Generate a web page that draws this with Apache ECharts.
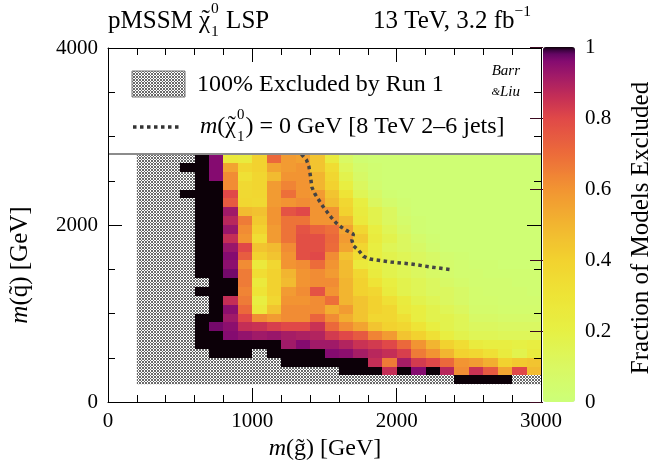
<!DOCTYPE html>
<html>
<head>
<meta charset="utf-8">
<script src="https://cdn.jsdelivr.net/npm/echarts@6/dist/echarts.min.js"></script>
<style>
  html, body {margin: 0; padding: 0; background: #fff;}
  #chart {width: 656px; height: 465px;}
</style>
</head>
<body>
<div id="chart"></div>
<script>
// lower bin edges, GeV
const gluinoMass = [200, 300, 400, 500, 600, 700, 800, 900, 1000, 1100, 1200, 1300, 1400, 1500,
  1600, 1700, 1800, 1900, 2000, 2100, 2200, 2300, 2400, 2500, 2600, 2700, 2800, 2900];
const squarkMass = [2700, 2600, 2500, 2400, 2300, 2200, 2100, 2000, 1900, 1800, 1700, 1600, 1500,
  1400, 1300, 1200, 1100, 1000, 900, 800, 700, 600, 500, 400, 300, 200];
const binWidth = 100;

// fraction of models excluded, one row per squark bin (top to bottom), null = no models left
const N = null;
const fractionExcluded = [
  [N, N, N, N, 1, 0.96, 0.26, 0.24, 0.40, 0.71, 0.58, 0.56, 0.45, 0.24, 0.09, 0.03, 0.02, 0.02, 0.02, 0.02, 0.02, 0.02, 0.02, 0.02, 0.02, 0.02, 0.02, 0.02],
  [N, N, N, 1, 1, 0.96, 0.55, 0.37, 0.40, 0.55, 0.58, 0.60, 0.45, 0.34, 0.13, 0.06, 0.03, 0.02, 0.02, 0.02, 0.02, 0.02, 0.02, 0.02, 0.02, 0.02, 0.02, 0.02],
  [N, N, N, N, 1, 0.96, 0.62, 0.32, 0.38, 0.48, 0.60, 0.60, 0.50, 0.37, 0.17, 0.08, 0.03, 0.02, 0.02, 0.02, 0.02, 0.02, 0.02, 0.02, 0.02, 0.02, 0.02, 0.02],
  [N, N, N, N, 1, 1, 0.62, 0.36, 0.38, 0.58, 0.64, 0.60, 0.50, 0.40, 0.22, 0.11, 0.04, 0.02, 0.02, 0.02, 0.02, 0.02, 0.02, 0.02, 0.02, 0.02, 0.02, 0.02],
  [N, N, N, 1, 1, 1, 0.80, 0.36, 0.37, 0.58, 0.69, 0.60, 0.58, 0.45, 0.30, 0.14, 0.08, 0.03, 0.02, 0.02, 0.02, 0.02, 0.02, 0.02, 0.02, 0.02, 0.02, 0.02],
  [N, N, N, N, 1, 1, 0.75, 0.37, 0.36, 0.58, 0.60, 0.62, 0.60, 0.48, 0.37, 0.22, 0.11, 0.06, 0.03, 0.02, 0.02, 0.02, 0.02, 0.02, 0.02, 0.02, 0.02, 0.02],
  [N, N, N, N, 1, 1, 0.92, 0.48, 0.46, 0.60, 0.77, 0.80, 0.60, 0.60, 0.40, 0.24, 0.17, 0.11, 0.04, 0.02, 0.02, 0.02, 0.02, 0.02, 0.02, 0.02, 0.02, 0.02],
  [N, N, N, N, 1, 1, 0.88, 0.66, 0.43, 0.60, 0.68, 0.68, 0.60, 0.60, 0.48, 0.26, 0.17, 0.11, 0.06, 0.03, 0.02, 0.02, 0.02, 0.02, 0.02, 0.02, 0.02, 0.02],
  [N, N, N, N, 1, 1, 0.93, 0.62, 0.40, 0.58, 0.68, 0.77, 0.72, 0.69, 0.55, 0.37, 0.22, 0.14, 0.08, 0.03, 0.02, 0.02, 0.02, 0.02, 0.02, 0.02, 0.02, 0.02],
  [N, N, N, N, 1, 1, 0.86, 0.60, 0.34, 0.58, 0.68, 0.78, 0.78, 0.71, 0.58, 0.43, 0.24, 0.17, 0.11, 0.06, 0.03, 0.02, 0.02, 0.02, 0.02, 0.02, 0.02, 0.02],
  [N, N, N, N, 1, 1, 0.93, 0.80, 0.45, 0.48, 0.62, 0.78, 0.78, 0.70, 0.55, 0.38, 0.22, 0.14, 0.11, 0.08, 0.04, 0.02, 0.02, 0.02, 0.02, 0.02, 0.02, 0.02],
  [N, N, N, N, 1, 1, 0.96, 0.74, 0.40, 0.45, 0.60, 0.78, 0.80, 0.62, 0.45, 0.34, 0.22, 0.17, 0.14, 0.11, 0.08, 0.04, 0.03, 0.02, 0.02, 0.02, 0.02, 0.02],
  [N, N, N, N, 1, 1, 0.95, 0.62, 0.26, 0.37, 0.60, 0.62, 0.70, 0.60, 0.48, 0.26, 0.22, 0.17, 0.14, 0.11, 0.08, 0.06, 0.04, 0.03, 0.03, 0.02, 0.02, 0.02],
  [N, N, N, N, 1, 1, 0.97, 0.66, 0.34, 0.40, 0.50, 0.60, 0.62, 0.58, 0.48, 0.37, 0.24, 0.17, 0.14, 0.11, 0.08, 0.06, 0.04, 0.04, 0.03, 0.03, 0.03, 0.03],
  [N, N, N, N, N, 1, 1, 0.66, 0.26, 0.40, 0.48, 0.60, 0.62, 0.62, 0.50, 0.40, 0.30, 0.22, 0.17, 0.14, 0.11, 0.08, 0.06, 0.04, 0.04, 0.04, 0.03, 0.03],
  [N, N, N, N, 1, 1, 1, 0.64, 0.30, 0.40, 0.58, 0.62, 0.77, 0.60, 0.50, 0.40, 0.37, 0.24, 0.17, 0.14, 0.11, 0.11, 0.08, 0.05, 0.04, 0.04, 0.04, 0.03],
  [N, N, N, N, N, 1, 0.86, 0.66, 0.22, 0.37, 0.60, 0.60, 0.62, 0.69, 0.50, 0.45, 0.40, 0.32, 0.24, 0.17, 0.14, 0.11, 0.08, 0.05, 0.05, 0.04, 0.04, 0.04],
  [N, N, N, N, N, 1, 0.95, 0.71, 0.26, 0.45, 0.62, 0.62, 0.62, 0.52, 0.58, 0.45, 0.40, 0.37, 0.26, 0.22, 0.17, 0.14, 0.11, 0.06, 0.06, 0.05, 0.05, 0.05],
  [N, N, N, N, 1, 1, 0.92, 0.80, 0.62, 0.58, 0.62, 0.62, 0.72, 0.62, 0.52, 0.45, 0.37, 0.37, 0.32, 0.22, 0.17, 0.17, 0.14, 0.08, 0.08, 0.07, 0.07, 0.07],
  [N, N, N, N, 1, 0.97, 0.95, 0.86, 0.85, 0.82, 0.80, 0.80, 0.85, 0.71, 0.62, 0.55, 0.45, 0.40, 0.37, 0.30, 0.22, 0.17, 0.14, 0.11, 0.11, 0.10, 0.10, 0.10],
  [N, N, N, N, 1, 1, 0.96, 0.94, 0.92, 0.93, 0.91, 0.90, 0.89, 0.83, 0.80, 0.75, 0.64, 0.58, 0.45, 0.40, 0.32, 0.22, 0.17, 0.14, 0.14, 0.13, 0.13, 0.13],
  [N, N, N, N, 1, 1, 1, 1, 1, 1, 0.92, 0.96, 0.92, 0.92, 0.89, 0.85, 0.83, 0.80, 0.71, 0.60, 0.50, 0.40, 0.34, 0.24, 0.22, 0.22, 0.20, 0.22],
  [N, N, N, N, N, 1, 1, 1, N, 1, 1, 1, 1, 0.96, 0.95, 0.91, 0.88, 0.86, 0.82, 0.66, 0.60, 0.50, 0.40, 0.37, 0.32, 0.24, 0.17, 0.24],
  [N, N, N, N, N, N, N, N, N, N, 1, 1, 1, 1, 1, 1, 0.86, 0.66, 0.91, 0.83, 0.80, 0.71, 0.60, 0.58, 0.52, 0.40, 0.43, 0.45],
  [N, N, N, N, N, N, N, N, N, N, N, N, N, N, 1, 1, 1, 0.86, 1, 0.96, 1, 0.88, 0.62, 0.85, 0.75, 0.55, 0.80, 0.48],
  [N, N, N, N, N, N, N, N, N, N, N, N, N, N, N, N, N, N, N, N, N, N, 1, 1, 1, 1, N, N],
];

// region fully excluded by Run 1 (hatched): [gluino min, squark min, gluino max, squark max]
const run1Region = [200, 200, 3000, 2800];
const run1Limit = 2800;

// 8 TeV 2-6 jets limit for massless LSP
const contourGluino = [1340, 1375, 1392, 1401, 1413, 1434, 1487, 1517, 1545, 1580, 1615, 1655, 1700, 1690, 1700, 1738, 1770, 1814, 1960, 2100, 2240, 2390];
const contourSquark = [2800, 2735, 2660, 2570, 2425, 2350, 2215, 2150, 2090, 2025, 1978, 1936, 1898, 1828, 1766, 1710, 1646, 1616, 1582, 1559, 1525, 1492];

const colorStops = [
  [0.00, "#ccff78"], [0.10, "#daf862"], [0.20, "#e6f044"], [0.30, "#eee436"],
  [0.40, "#f2d22f"], [0.50, "#f2b530"], [0.60, "#f29432"], [0.70, "#ec6b3a"],
  [0.80, "#e04848"], [0.86, "#c42e56"], [0.92, "#a01a68"], [0.96, "#850b70"],
  [0.985, "#5a0560"], [1.00, "#0c0008"],
];

const FONT = "Liberation Serif";

function hexToRgb(h) {
  return [parseInt(h.slice(1, 3), 16), parseInt(h.slice(3, 5), 16), parseInt(h.slice(5, 7), 16)];
}

function buildPalette(n) {
  const out = [];
  for (let i = 0; i < n; i++) {
    const v = i / (n - 1);
    let k = 0;
    while (k < colorStops.length - 2 && v > colorStops[k + 1][0]) {
      k++;
    }
    const a = colorStops[k], b = colorStops[k + 1];
    const t = Math.min(1, Math.max(0, (v - a[0]) / (b[0] - a[0])));
    const ca = hexToRgb(a[1]), cb = hexToRgb(b[1]);
    const c = ca.map((x, j) => Math.round(x + (cb[j] - x) * t));
    out.push(`rgb(${c[0]},${c[1]},${c[2]})`);
  }
  return out;
}

function hatchPattern() {
  const c = document.createElement("canvas");
  c.width = 3;
  c.height = 3;
  const g = c.getContext("2d");
  g.fillStyle = "#ffffff";
  g.fillRect(0, 0, 3, 3);
  g.fillStyle = "#6a6a6a";
  for (let x = 0; x < 3; x++) {
    for (let y = 0; y < 3; y++) {
      if ((x + y) % 3 === 0 || (x - y + 3) % 3 === 0) {
        g.fillRect(x, y, 1, 1);
      }
    }
  }
  return {image: c, repeat: "repeat"};
}

const measureCtx = document.createElement("canvas").getContext("2d");
function textWidth(text, size, style) {
  measureCtx.font = `${style || "normal"} ${size}px "${FONT}"`;
  return measureCtx.measureText(text).width;
}

function textEl(x, y, size, text, italic) {
  return {
    type: "text", x: x, y: y, silent: true,
    style: {
      text: text, fontFamily: FONT, fontSize: size, fontStyle: italic ? "italic" : "normal",
      fill: "#000", textAlign: "left", align: "left", textVerticalAlign: "middle", verticalAlign: "middle",
    },
  };
}

// a line of text with italic, tilde-accented, superscript and stacked sub/superscript parts
function composedLine(x, y, size, parts, alignRight) {
  const small = size * 0.62;
  const widthOf = p => {
    if (p.stack) {
      return Math.max(textWidth(p.stack[0], small), textWidth(p.stack[1], small)) + 1;
    }
    if (p.sup) {
      return textWidth(p.sup, small);
    }
    if (p.tilde) {
      return textWidth(p.tilde, size) + 1;
    }
    return textWidth(p.text, size, p.italic ? "italic" : "normal");
  };
  let cx = x;
  if (alignRight) {
    cx = x - parts.reduce((s, p) => s + widthOf(p), 0);
  }
  const els = [];
  parts.forEach(p => {
    if (p.stack) {
      els.push(textEl(cx, y - size * 0.5, small, p.stack[0]));
      els.push(textEl(cx, y + size * 0.42, small, p.stack[1]));
    } else if (p.sup) {
      els.push(textEl(cx, y - size * 0.38, small, p.sup));
    } else if (p.tilde) {
      const w = textWidth(p.tilde, size);
      const tw = textWidth("\u02DC", size);
      els.push(textEl(cx, y, size, p.tilde));
      els.push(textEl(cx + (w - tw) / 2 + 1, y - size * 0.04, size, "\u02DC"));
    } else {
      els.push(textEl(cx, y, size, p.text, p.italic));
    }
    cx += widthOf(p);
  });
  return els;
}

const cells = [];
squarkMass.forEach((mq, r) => {
  gluinoMass.forEach((mg, c) => {
    const v = fractionExcluded[r][c];
    if (v !== null) {
      cells.push([mg, mq, v]);
    }
  });
});

const chart = echarts.init(document.getElementById("chart"), null, {renderer: "canvas"});
const hatch = hatchPattern();
const chi = "\u03C7";

const axisCommon = {
  type: "value",
  z: 10,
  splitLine: {show: false},
  axisLine: {show: true, onZero: false, lineStyle: {color: "#000", width: 1}},
  axisTick: {show: true, inside: true, length: 14, lineStyle: {color: "#000"}},
  minorTick: {show: true, length: 7, lineStyle: {color: "#000"}},
  axisLabel: {color: "#000", fontFamily: FONT, fontSize: 21, formatter: v => String(v)},
};

const graphics = [].concat(
  composedLine(108, 21, 25, [{text: "pMSSM "}, {tilde: chi}, {stack: ["0", "1"]}, {text: " LSP"}]),
  composedLine(531, 21, 25, [{text: "13 TeV, 3.2 fb"}, {sup: "\u22121"}], true),
  [
    {
      type: "rect", silent: true,
      shape: {x: 132, y: 71, width: 53, height: 26},
      style: {fill: hatch, stroke: "#777", lineWidth: 1},
    },
    {
      type: "line", silent: true,
      shape: {x1: 133, y1: 127, x2: 180, y2: 127},
      style: {stroke: "#333", lineWidth: 3.5, lineDash: [3.5, 3.5]},
    },
  ],
  composedLine(197, 85, 24, [{text: "100% Excluded by Run 1"}]),
  composedLine(200, 127, 24, [{text: "m", italic: true}, {text: "("}, {tilde: chi}, {stack: ["0", "1"]},
    {text: ") = 0 GeV [8 TeV 2\u20136 jets]"}]),
  [
    {
      type: "text", x: 520, y: 71, silent: true,
      style: {text: "Barr", fontFamily: FONT, fontSize: 15, fontStyle: "italic", fill: "#000",
        textAlign: "right", align: "right", textVerticalAlign: "middle", verticalAlign: "middle"},
    },
    {
      type: "text", x: 520, y: 92, silent: true,
      style: {text: "{a|&}{b|Liu}", fill: "#000", textAlign: "right", align: "right",
        textVerticalAlign: "middle", verticalAlign: "middle",
        rich: {
          a: {fontFamily: FONT, fontSize: 11, fontStyle: "italic"},
          b: {fontFamily: FONT, fontSize: 15, fontStyle: "italic"},
        }},
    },
    {
      type: "text", x: 20, y: 265, rotation: Math.PI / 2, silent: true,
      style: {text: "{i|m}{n|(q\u0303) [GeV]}", fill: "#000", textAlign: "center", align: "center",
        textVerticalAlign: "middle", verticalAlign: "middle",
        rich: {
          i: {fontFamily: FONT, fontSize: 25, fontStyle: "italic"},
          n: {fontFamily: FONT, fontSize: 25},
        }},
    },
    {
      type: "text", x: 325, y: 449, silent: true,
      style: {text: "{i|m}{n|(g\u0303) [GeV]}", fill: "#000", textAlign: "center", align: "center",
        textVerticalAlign: "middle", verticalAlign: "middle",
        rich: {
          i: {fontFamily: FONT, fontSize: 24, fontStyle: "italic"},
          n: {fontFamily: FONT, fontSize: 24},
        }},
    },
    {
      type: "text", x: 641, y: 228, rotation: Math.PI / 2, silent: true,
      style: {text: "Fraction of Models Excluded", fontFamily: FONT, fontSize: 25, fill: "#000",
        textAlign: "center", align: "center", textVerticalAlign: "middle", verticalAlign: "middle"},
    },
  ]
);

const option = {
  backgroundColor: "#fff",
  animation: false,
  grid: [
    {left: 108, top: 48, width: 433, height: 354},
    {left: 543, top: 47, width: 32, height: 355},
  ],
  xAxis: [
    Object.assign({}, axisCommon, {gridIndex: 0, position: "bottom", min: 0, max: 3000, interval: 1000,
      minorTick: Object.assign({}, axisCommon.minorTick, {splitNumber: 5}),
      axisLabel: Object.assign({}, axisCommon.axisLabel, {margin: 9})}),
    Object.assign({}, axisCommon, {gridIndex: 0, position: "top", min: 0, max: 3000, interval: 1000,
      minorTick: Object.assign({}, axisCommon.minorTick, {splitNumber: 5}),
      axisLabel: {show: false}}),
    {gridIndex: 1, type: "value", min: 0, max: 1, show: false},
  ],
  yAxis: [
    Object.assign({}, axisCommon, {gridIndex: 0, position: "left", min: 0, max: 4000, interval: 2000,
      minorTick: Object.assign({}, axisCommon.minorTick, {splitNumber: 4}),
      axisLabel: Object.assign({}, axisCommon.axisLabel, {margin: 10})}),
    Object.assign({}, axisCommon, {gridIndex: 0, position: "right", min: 0, max: 4000, interval: 2000,
      minorTick: Object.assign({}, axisCommon.minorTick, {splitNumber: 4}),
      axisLabel: {show: false}}),
    {
      gridIndex: 1, type: "value", position: "right", min: 0, max: 1, interval: 0.2, z: 10,
      splitLine: {show: false},
      axisLine: {show: false},
      axisTick: {show: true, inside: true, length: 13, lineStyle: {color: "#3a0a20", width: 1}},
      minorTick: {show: false},
      axisLabel: {color: "#000", fontFamily: FONT, fontSize: 21, margin: 10, formatter: v => String(v)},
    },
  ],
  visualMap: {
    type: "continuous",
    seriesIndex: 1,
    dimension: 2,
    min: 0,
    max: 1,
    calculable: false,
    orient: "vertical",
    left: 543,
    top: 47,
    padding: 0,
    itemWidth: 32,
    itemHeight: 355,
    text: null,
    showLabel: false,
    inRange: {color: buildPalette(101)},
  },
  graphic: {elements: graphics},
  series: [
    {
      type: "custom",
      name: "Run 1",
      xAxisIndex: 0,
      yAxisIndex: 0,
      z: 1,
      silent: true,
      data: [run1Region],
      renderItem: (params, api) => {
        const p0 = api.coord([api.value(0), api.value(3)]);
        const p1 = api.coord([api.value(2), api.value(1)]);
        return {
          type: "rect",
          shape: {x: p0[0], y: p0[1], width: p1[0] - p0[0], height: p1[1] - p0[1]},
          style: {fill: hatch},
        };
      },
    },
    {
      type: "custom",
      name: "Fraction excluded",
      xAxisIndex: 0,
      yAxisIndex: 0,
      z: 2,
      silent: true,
      data: cells,
      encode: {x: 0, y: 1},
      renderItem: (params, api) => {
        const p0 = api.coord([api.value(0), api.value(1) + binWidth]);
        const p1 = api.coord([api.value(0) + binWidth, api.value(1)]);
        const x0 = Math.round(p0[0]), y0 = Math.round(p0[1]);
        return {
          type: "rect",
          shape: {x: x0, y: y0, width: Math.round(p1[0]) - x0, height: Math.round(p1[1]) - y0},
          style: {fill: api.visual("color")},
        };
      },
    },
    {
      type: "line",
      name: "8 TeV",
      xAxisIndex: 0,
      yAxisIndex: 0,
      z: 3,
      silent: true,
      symbol: "none",
      data: contourGluino.map((g, i) => [g, contourSquark[i]]),
      lineStyle: {color: "#444", width: 3.5, type: [3.5, 3.5]},
      markLine: {
        silent: true,
        symbol: "none",
        label: {show: false},
        lineStyle: {color: "#8c8c8c", width: 2, type: "solid"},
        data: [{yAxis: run1Limit}],
      },
    },
  ],
};

chart.setOption(option);
</script>
</body>
</html>
